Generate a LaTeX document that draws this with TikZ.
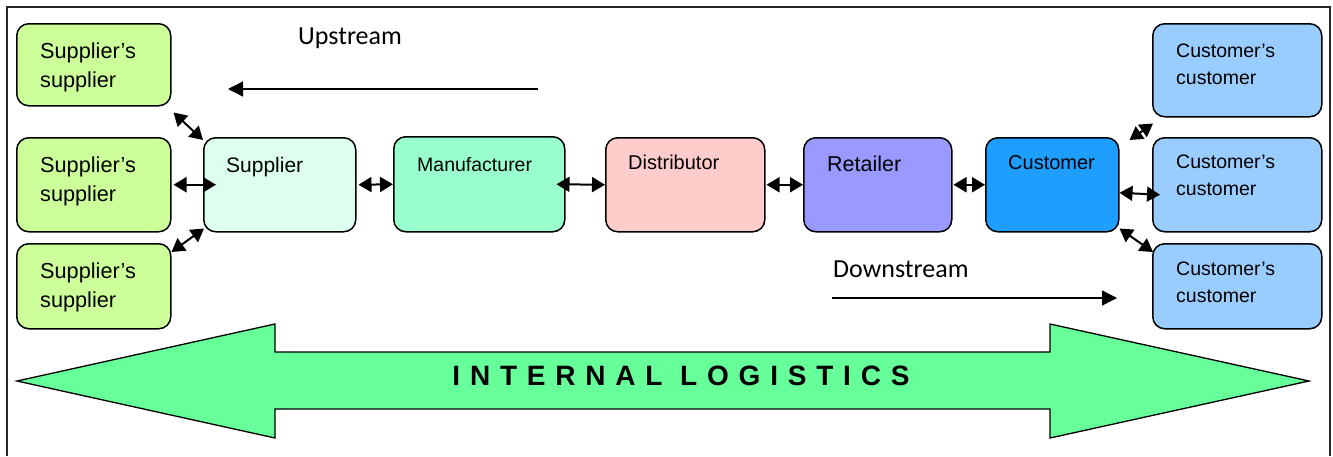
\documentclass[tikz,border=0pt]{standalone}
\usepackage{fontspec}
\setmainfont{Liberation Sans}
\newfontfamily\calfont{Carlito}
\usetikzlibrary{arrows.meta}

\definecolor{ssgreen}{HTML}{CCFF99}
\definecolor{supmint}{HTML}{DDFFEE}
\definecolor{manmint}{HTML}{99FFCC}
\definecolor{distpink}{HTML}{FFCCCC}
\definecolor{retviolet}{HTML}{9999FF}
\definecolor{cusblue}{HTML}{1E9EFF}
\definecolor{ccblue}{HTML}{99CCFF}
\definecolor{logigreen}{HTML}{66FF99}

\tikzset{
  box/.style={draw=black, line width=1.5pt, rounded corners=12pt,
    anchor=north west, inner sep=0pt},
  lbl/.style={anchor=north west, inner sep=0pt, align=left,
    font=\fontsize{21.7}{29}\selectfont},
  lblsm/.style={anchor=north west, inner sep=0pt, align=left,
    font=\fontsize{19.5}{27}\selectfont},
  dbl/.style={line width=2pt,
    {Triangle[length=13pt 0,width=15pt 0]}-{Triangle[length=13pt 0,width=15pt 0]}},
  flow/.style={line width=1.3pt, -{Triangle[length=15pt 0,width=15pt 0]}},
  dirlbl/.style={anchor=base west, inner sep=0pt,
    font=\calfont\fontsize{26}{30}\selectfont},
}

\begin{document}
\begin{tikzpicture}[x=1pt, y=-1pt]
\useasboundingbox (0,0) rectangle (1333,456);

% page frame
\draw[line width=1.8pt, black!85] (7,456) -- (7,7) -- (1330,7) -- (1330,456);

% internal logistics band
\draw[fill=logigreen, line width=1.3pt]
  (17,381) -- (275,324) -- (275,352) -- (1050,352) -- (1050,324)
  -- (1309,381) -- (1050,438) -- (1050,409) -- (275,409) -- (275,438) -- cycle;
\node[anchor=base, inner sep=0pt,
  font=\addfontfeature{LetterSpace=35}\bfseries\fontsize{28}{30}\selectfont]
  (logi) at (681,385) {INTERNAL LOGISTICS};

% supplier's suppliers
\node[box, fill=ssgreen, minimum width=154pt, minimum height=82pt] (ss1) at (16,23) {};
\node[box, fill=ssgreen, minimum width=154pt, minimum height=94pt] (ss2) at (16,137) {};
\node[box, fill=ssgreen, minimum width=154pt, minimum height=85pt] (ss3) at (16,243) {};
\node[lbl] (ss1t) at (40,38)  {\strut Supplier’s\\supplier};
\node[lbl] (ss2t) at (40,152) {\strut Supplier’s\\supplier};
\node[lbl] (ss3t) at (40,258) {\strut Supplier’s\\supplier};

% main chain
\node[box, fill=supmint,   minimum width=152pt, minimum height=94pt] (sup)  at (203,137) {};
\node[box, fill=manmint,   minimum width=171pt, minimum height=95pt] (man)  at (393,136) {};
\node[box, fill=distpink,  minimum width=159pt, minimum height=94pt] (dist) at (605,137) {};
\node[box, fill=retviolet, minimum width=148pt, minimum height=94pt] (ret)  at (803,137) {};
\node[box, fill=cusblue,   minimum width=133pt, minimum height=94pt] (cus)  at (985,137) {};
\node[anchor=base west, inner sep=0pt, font=\fontsize{21}{25}\selectfont]   (supt)  at (226,172) {Supplier};
\node[anchor=base west, inner sep=0pt, font=\fontsize{19.5}{24}\selectfont] (mant)  at (417,171) {Manufacturer};
\node[anchor=base west, inner sep=0pt, font=\fontsize{20}{24}\selectfont]   (distt) at (628,169) {Distributor};
\node[anchor=base west, inner sep=0pt, font=\fontsize{21.5}{25}\selectfont] (rett)  at (827,171) {Retailer};
\node[anchor=base west, inner sep=0pt, font=\fontsize{20}{24}\selectfont]   (cust)  at (1008,169) {Customer};

% customer's customers
\node[box, fill=ccblue, minimum width=169pt, minimum height=93pt] (cc1) at (1152,23) {};
\node[box, fill=ccblue, minimum width=169pt, minimum height=94pt] (cc2) at (1152,137) {};
\node[box, fill=ccblue, minimum width=169pt, minimum height=85pt] (cc3) at (1152,243) {};
\node[lblsm] (cc1t) at (1176,38)  {\strut Customer’s\\customer};
\node[lblsm] (cc2t) at (1176,149) {\strut Customer’s\\customer};
\node[lblsm] (cc3t) at (1176,256) {\strut Customer’s\\customer};

% links between neighbours
\draw[dbl] ([shift={(2pt,-6pt)}]ss1.south east) -- ([yshift=-3pt]sup.north west);
\draw[dbl] ([xshift=2pt]ss2.east) -- ([xshift=13pt]sup.west);
\draw[dbl] ([yshift=-9pt]ss3.north east) -- ([shift={(1pt,4pt)}]sup.south west);
\draw[dbl] ([xshift=2pt]sup.east) -- (man.west);
\draw[dbl] ([xshift=-9pt]man.east) -- (dist.west);
\draw[dbl] ([xshift=1pt]dist.east) -- (ret.west);
\draw[dbl] ([xshift=1pt]ret.east) -- (cus.west);
\draw[dbl] ([shift={(10pt,-3pt)}]cus.north east) -- ([shift={(1pt,-6pt)}]cc1.south west);
\draw[dbl] ([yshift=-8pt]cus.east) -- ([shift={(8pt,-10pt)}]cc2.west);
\draw[dbl] ([yshift=4pt]cus.south east) -- ([shift={(1pt,-9pt)}]cc3.north west);

% flow directions
\coordinate (upA) at (538,89);
\coordinate (upB) at (228,89);
\coordinate (dnA) at (832,298);
\coordinate (dnB) at (1117,298);
\draw[flow] (upA) -- (upB);
\draw[flow] (dnA) -- (dnB);
\node[dirlbl] (upt) at (298,44)  {Upstream};
\node[dirlbl] (dnt) at (833,277) {Downstream};
\end{tikzpicture}
\end{document}
